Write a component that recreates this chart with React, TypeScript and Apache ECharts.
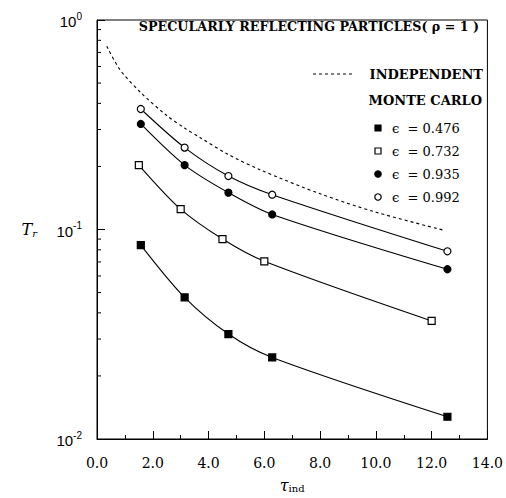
import React, { useEffect, useRef } from 'react';
import * as echarts from 'echarts';

// optical thickness (x) for each Monte Carlo set
const tauA = [1.571, 3.142, 4.712, 6.283, 12.566];
const tauB = [1.5, 3.0, 4.5, 6.0, 12.0];
// transmission T_r
const eps476 = [0.0843, 0.0474, 0.0317, 0.0245, 0.01277];
const eps732 = [0.203, 0.125, 0.09, 0.0705, 0.0366];
const eps935 = [0.319, 0.203, 0.15, 0.118, 0.0646];
const eps992 = [0.376, 0.246, 0.18, 0.1466, 0.0787];
// independent scattering curve
const indepTau = [0.35, 0.82, 1.57, 2.5, 3.14, 3.69, 4.71, 5.84, 8.0, 10.0, 12.46];
const indepT = [0.75, 0.58, 0.45, 0.35, 0.305, 0.275, 0.228, 0.193, 0.148, 0.121, 0.099];
// minor tick positions on the log axis
const minorTickVals = [0.02, 0.03, 0.04, 0.05, 0.06, 0.07, 0.08, 0.09, 0.2, 0.3, 0.4, 0.5, 0.6, 0.7, 0.8, 0.9];
const legendLabels = ['0.476', '0.732', '0.935', '0.992'];

const zip = (xs: number[], ys: number[]) => xs.map((x, i) => [x, ys[i]]);

export default function App() {
  const ref = useRef<HTMLDivElement>(null);
  useEffect(() => {
    if (!ref.current) return;
    const chart = echarts.init(ref.current, null, { renderer: 'svg' });
    const lineStyle = { color: '#000', width: 1.1 };
    const mk = (name: string, xs: number[], ys: number[], symbol: string, filled: boolean) => ({
      name,
      type: 'line',
      data: zip(xs, ys),
      smooth: 0.3,
      symbol,
      symbolSize: 7,
      showSymbol: true,
      lineStyle,
      itemStyle: { color: filled ? '#000' : '#fff', borderColor: '#000', borderWidth: 1.2 },
      z: 3,
    });
    const serif = 'DejaVu Serif';
    const legendMarkers: any[] = [];
    const symbols = [
      { t: 'rect', f: true },
      { t: 'rect', f: false },
      { t: 'circle', f: true },
      { t: 'circle', f: false },
    ];
    legendLabels.forEach((lab, i) => {
      const y = 128 + i * 23;
      const s = symbols[i];
      if (s.t === 'rect') {
        legendMarkers.push({
          type: 'rect',
          shape: { x: 375, y: y - 3, width: 6, height: 6 },
          style: { fill: s.f ? '#000' : '#fff', stroke: '#000', lineWidth: 1.2 },
        });
      } else {
        legendMarkers.push({
          type: 'circle',
          shape: { cx: 378, cy: y, r: 3.2 },
          style: { fill: s.f ? '#000' : '#fff', stroke: '#000', lineWidth: 1.2 },
        });
      }
      legendMarkers.push({
        type: 'text',
        x: 392,
        y,
        style: { text: '\u03F5  = ' + lab, font: `13px "${serif}"`, fill: '#000', verticalAlign: 'middle', align: 'left' },
      });
    });

    chart.setOption({
      animation: false,
      backgroundColor: '#fff',
      grid: { left: 97, right: 18, top: 20, bottom: 51, show: true, borderColor: '#000', borderWidth: 1, backgroundColor: 'transparent' },
      xAxis: {
        type: 'value',
        min: 0,
        max: 14,
        interval: 2,
        axisLine: { show: true, lineStyle: { color: '#000', width: 1 } },
        axisTick: { show: true, inside: true, length: 8, lineStyle: { color: '#000', width: 1 } },
        minorTick: { show: true, splitNumber: 2, length: 4, lineStyle: { color: '#000', width: 1 } },
        splitLine: { show: false },
        minorSplitLine: { show: false },
        axisLabel: { formatter: (v: number) => v.toFixed(1), fontFamily: serif, fontSize: 14, color: '#000', margin: 17 },
        name: '{t|\u03C4}{s|ind}',
        nameLocation: 'middle',
        nameGap: 38,
        nameTextStyle: {
          rich: {
            t: { fontFamily: serif, fontStyle: 'italic', fontSize: 16, color: '#000', lineHeight: 16, verticalAlign: 'top' },
            s: { fontFamily: serif, fontSize: 10, color: '#000', lineHeight: 14, verticalAlign: 'bottom', padding: [8, 0, 0, 0] },
          },
        },
      },
      yAxis: {
        type: 'log',
        logBase: 10,
        min: 0.01,
        max: 1,
        axisLine: { show: true, lineStyle: { color: '#000', width: 1 } },
        axisTick: { show: true, inside: true, length: 8, lineStyle: { color: '#000', width: 1 } },
        splitLine: { show: false },
        minorTick: { show: false },
        axisLabel: {
          margin: 15,
          formatter: (v: number) => {
            const e = Math.round(Math.log10(v));
            return `{b|10}{s|${e}}`;
          },
          rich: {
            b: { fontFamily: 'Liberation Sans', fontSize: 15, color: '#000', lineHeight: 18, verticalAlign: 'bottom' },
            s: { fontFamily: 'Liberation Sans', fontSize: 10, color: '#000', lineHeight: 10, verticalAlign: 'top' },
          },
        },
        name: '{t|T}{s|r}',
        nameLocation: 'middle',
        nameRotate: 0,
        nameGap: 60,
        nameTextStyle: {
          rich: {
            t: { fontFamily: serif, fontStyle: 'italic', fontSize: 16, color: '#000', lineHeight: 18 },
            s: { fontFamily: serif, fontStyle: 'italic', fontSize: 10, color: '#000', lineHeight: 18, padding: [8, 0, 0, 0] },
          },
        },
      },
      series: [
        {
          name: 'INDEPENDENT',
          type: 'line',
          data: zip(indepTau, indepT),
          smooth: 0.3,
          showSymbol: false,
          symbol: 'none',
          lineStyle: { color: '#000', width: 1.1, type: [3, 3] },
          z: 2,
        },
        mk('0.476', tauA, eps476, 'rect', true),
        mk('0.732', tauB, eps732, 'rect', false),
        mk('0.935', tauA, eps935, 'circle', true),
        mk('0.992', tauA, eps992, 'circle', false),
        {
          name: 'minorTicks',
          type: 'custom',
          data: minorTickVals.map((v) => [0, v]),
          silent: true,
          clip: false,
          renderItem: (_p: any, api: any) => {
            const pt = api.coord([0, api.value(1)]);
            return {
              type: 'line',
              shape: { x1: pt[0], y1: pt[1], x2: pt[0] + 4, y2: pt[1] },
              style: { stroke: '#000', lineWidth: 1 },
            };
          },
          z: 5,
        },
      ],
      graphic: [
        {
          type: 'text',
          x: 479,
          y: 26,
          style: {
            text: 'SPECULARLY REFLECTING PARTICLES( \u03C1 = 1 )',
            font: `bold 12.7px "${serif}"`,
            fill: '#000',
            align: 'right',
            verticalAlign: 'middle',
          },
        },
        {
          type: 'line',
          shape: { x1: 313, y1: 74, x2: 353, y2: 74 },
          style: { stroke: '#000', lineWidth: 1.2, lineDash: [3, 3] },
        },
        {
          type: 'text',
          x: 483,
          y: 74,
          style: { text: 'INDEPENDENT', font: `bold 13px "${serif}"`, fill: '#000', align: 'right', verticalAlign: 'middle' },
        },
        {
          type: 'text',
          x: 482,
          y: 100,
          style: { text: 'MONTE CARLO', font: `bold 13px "${serif}"`, fill: '#000', align: 'right', verticalAlign: 'middle' },
        },
        ...legendMarkers,
      ],
    });
    return () => chart.dispose();
  }, []);
  return <div ref={ref} style={{ position: 'fixed', left: 0, top: 0, width: 506, height: 498, background: '#fff' }} />;
}
